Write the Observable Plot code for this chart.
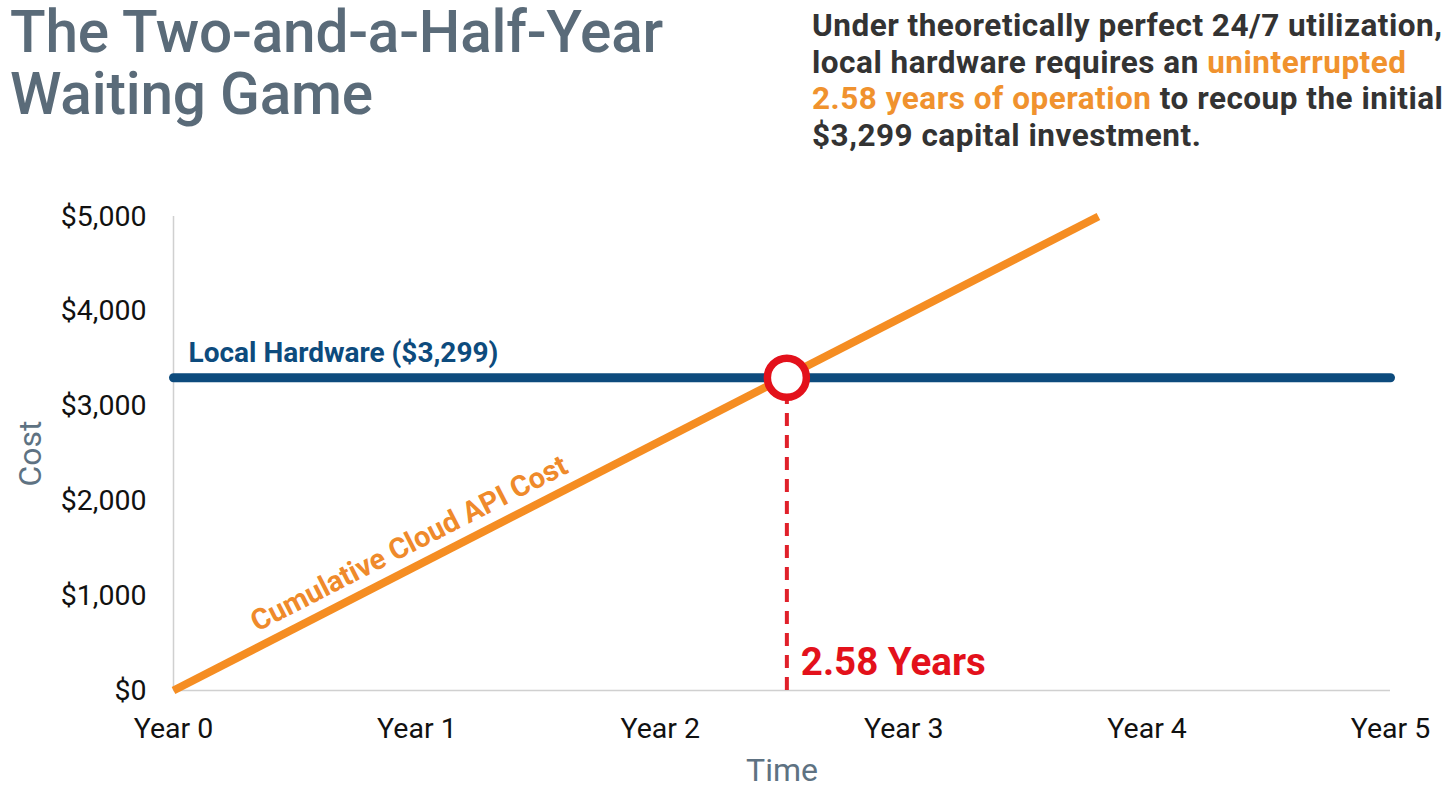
<!DOCTYPE html>
<html>
<head>
<meta charset="utf-8">
<script src="https://cdn.jsdelivr.net/npm/d3@7"></script>
<script src="https://cdn.jsdelivr.net/npm/@observablehq/plot@0.6"></script>
<style>
  html, body { margin: 0; padding: 0; background: #fff; }
  body { width: 1456px; height: 791px; overflow: hidden; font-family: Roboto, "Noto Sans", sans-serif; }
  #header { position: relative; height: 185px; }
  #title { position: absolute; left: 10px; top: 1px; font-size: 58.5px; font-weight: 500; color: #5a6b79; line-height: 62px; letter-spacing: -0.2px; white-space: nowrap; }
  #subtitle { position: absolute; left: 812px; top: 8px; font-size: 31.5px; font-weight: 700; color: #333; line-height: 36.5px; letter-spacing: 0.5px; white-space: nowrap; }
  #subtitle .hl { color: #f0922e; }
  #chart svg { display: block; }
</style>
</head>
<body>
<div id="header">
  <div id="title">The Two-and-a-Half-Year<br>Waiting Game</div>
  <div id="subtitle">Under theoretically perfect 24/7 utilization,<br>local hardware requires an <span class="hl">uninterrupted</span><br><span class="hl">2.58 years of operation</span> to recoup the initial<br>$3,299 capital investment.</div>
</div>
<div id="chart"></div>
<script>
// ---- data ----
const yearTicks = [0, 1, 2, 3, 4, 5];
const yearTickLabels = ["Year 0", "Year 1", "Year 2", "Year 3", "Year 4", "Year 5"];
const costTicks = [0, 1000, 2000, 3000, 4000, 5000];
const costTickLabels = ["$0", "$1,000", "$2,000", "$3,000", "$4,000", "$5,000"];
const hardwareYears = [0, 5];
const hardwareCosts = [3299, 3299];
const hardwareLabel = "Local Hardware ($3,299)";
const cloudYears = [0, 3.8];
const cloudCosts = [0, 5000];
const cloudLabel = "Cumulative Cloud API Cost";
const breakEvenYear = 2.52;
const breakEvenCost = 3299;
const breakEvenLabel = "2.58 Years";

const BLUE = "#0d4b7d", ORANGE = "#f58d22", RED = "#e3111b", GREY = "#d0d0d0", AXISLBL = "#5e7282";

const hardware = hardwareYears.map((x, i) => ({x, y: hardwareCosts[i]}));
const cloud = cloudYears.map((x, i) => ({x, y: cloudCosts[i]}));

const chart = Plot.plot({
  width: 1456,
  height: 606,
  marginLeft: 173,
  marginRight: 66,
  marginTop: 31,
  marginBottom: 101,
  style: {fontFamily: "Roboto, sans-serif", background: "#fff", overflow: "visible"},
  x: {domain: [0, 5]},
  y: {domain: [0, 5000]},
  marks: [
    Plot.ruleX([0], {y1: 0, y2: 5000, stroke: GREY, strokeWidth: 1.5}),
    Plot.ruleY([0], {x1: 0, x2: 5, stroke: GREY, strokeWidth: 1.5}),
    Plot.axisX(yearTicks, {tickSize: 0, tickPadding: 27, fontSize: 28.5, fill: "#111", tickFormat: (d, i) => yearTickLabels[i], label: null}),
    Plot.axisY(costTicks, {tickSize: 0, tickPadding: 27, fontSize: 28.5, fill: "#111", tickFormat: (d, i) => costTickLabels[i], label: null}),
    Plot.text(["Cost"], {frameAnchor: "left", textAnchor: "middle", lineAnchor: "middle", dx: -143, rotate: -90, fontSize: 32, fill: AXISLBL}),
    Plot.text(["Time"], {frameAnchor: "bottom", textAnchor: "middle", lineAnchor: "middle", dy: 80, fontSize: 32, fill: AXISLBL}),
    Plot.ruleX([breakEvenYear], {y1: 0, y2: breakEvenCost, stroke: "#e0202a", strokeWidth: 4, strokeDasharray: "13,9"}),
    Plot.line(hardware, {x: "x", y: "y", stroke: BLUE, strokeWidth: 9, strokeLinecap: "round"}),
    Plot.line(cloud, {x: "x", y: "y", stroke: ORANGE, strokeWidth: 8, strokeLinecap: "butt"}),
    Plot.text([hardwareLabel], {x: hardwareYears[0], y: hardwareCosts[0], dx: 15, dy: -25, textAnchor: "start", fontSize: 28, fontWeight: 700, fill: BLUE}),
    Plot.text([cloudLabel], {x: cloudYears[1] * 0.257, y: cloudCosts[1] * 0.257, dx: -2, dy: -25, rotate: -27.1, fontSize: 29, fontWeight: 700, fill: "#ef8a2b"}),
    Plot.dot([{x: breakEvenYear, y: breakEvenCost}], {x: "x", y: "y", r: 19.5, stroke: RED, strokeWidth: 7.5, fill: "#fff"}),
    Plot.text([breakEvenLabel], {x: breakEvenYear, y: 0, dx: 14, dy: -28, textAnchor: "start", fontSize: 38.5, fontWeight: 700, fill: RED})
  ]
});
document.getElementById("chart").appendChild(chart);
</script>
</body>
</html>
